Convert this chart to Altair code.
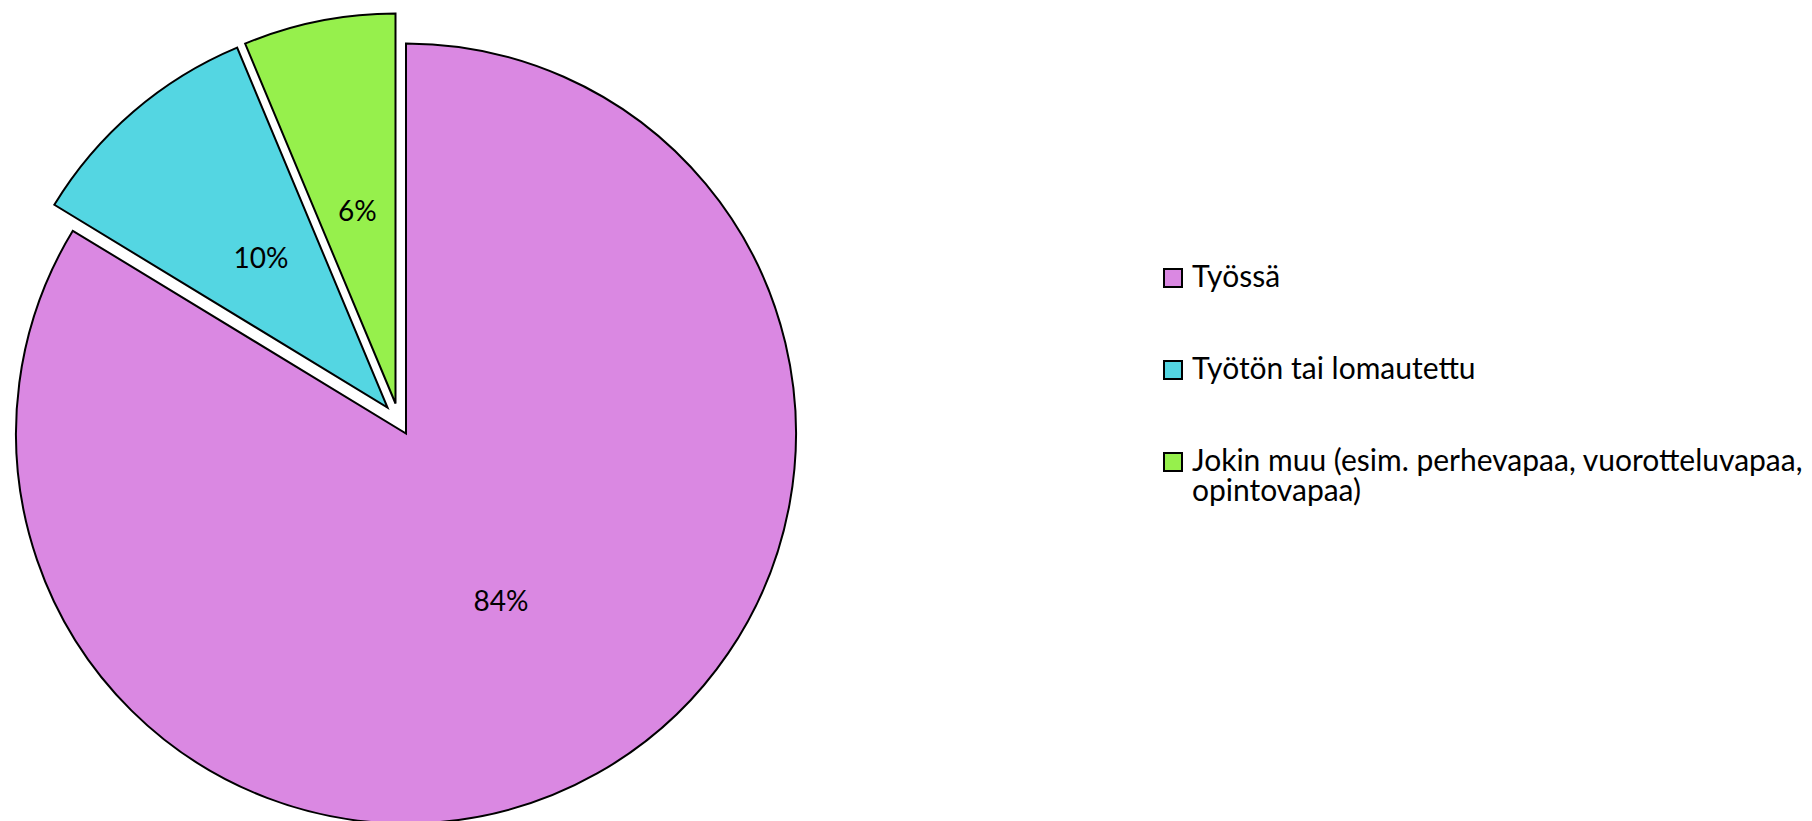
import altair as alt
import pandas as pd
import math

# ---- data ----
categories = [
    "Työssä",
    "Työtön tai lomautettu",
    "Jokin muu (esim. perhevapaa, vuorotteluvapaa, opintovapaa)",
]
shares = [83.7, 10.0, 6.3]
labels = ["84%", "10%", "6%"]

# ---- styles ----
colors = ["#DA88E2", "#54D6E2", "#96F04C"]
# explode offsets (px) per slice
explode_dx = [0, -18.5, -10.5]
explode_dy = [0, -26, -30]
CX, CY = 398, 425.5          # pie centre inside the view
R = 390
LABEL_R = 194
FONT = "Lato"
FS_LABEL = 28
FS_LEGEND = 30

df = pd.DataFrame({
    "cat": categories,
    "share": shares,
    "label": labels,
    "order": list(range(len(categories))),
})

base = (
    alt.Chart(df)
    .transform_window(end="sum(share)", sort=[alt.SortField("order")], frame=[None, 0])
    .transform_calculate(start="datum.end - datum.share", mid="datum.end - datum.share / 2")
)

theta_scale = alt.Scale(domain=[0, 100], range=[0, 2 * math.pi])

legend = alt.Legend(
    title=None,
    orient="none",
    legendX=1150,
    legendY=255,
    direction="vertical",
    symbolType="square",
    symbolSize=324,
    symbolStrokeColor="black",
    symbolStrokeWidth=2,
    symbolOpacity=1,
    labelFont=FONT,
    labelFontSize=FS_LEGEND,
    labelColor="black",
    labelLimit=0,
    labelOffset=4,
    rowPadding=62,
    labelExpr="split(replace(datum.label, ', opintovapaa', ',|opintovapaa'), '|')",
)

layers = []
for i, cat in enumerate(categories):
    sel = base.transform_filter(alt.datum.cat == cat)
    arc = sel.mark_arc(
        outerRadius=R, stroke="black", strokeWidth=2,
        xOffset=explode_dx[i], yOffset=explode_dy[i],
    ).encode(
        x=alt.value(CX),
        y=alt.value(CY),
        theta=alt.Theta("start:Q", scale=theta_scale, stack=False),
        theta2="end:Q",
        color=alt.Color(
            "cat:N",
            scale=alt.Scale(domain=categories, range=colors),
            legend=legend if i == 0 else None,
        ),
    )
    txt = sel.mark_text(
        radius=LABEL_R, font=FONT, fontSize=FS_LABEL, color="black",
        align="center", baseline="middle",
        xOffset=explode_dx[i], yOffset=explode_dy[i],
    ).encode(
        x=alt.value(CX),
        y=alt.value(CY),
        theta=alt.Theta("mid:Q", scale=theta_scale, stack=False),
        text="label:N",
    )
    layers += [arc, txt]

chart = (
    alt.layer(*layers)
    .properties(width=1796, height=813, autosize=alt.AutoSizeParams(type="none"), padding=0)
    .configure(style={"guide-label": {"lineHeight": 30}})
    .configure_view(strokeWidth=0)
)

chart.save("out.html", embed_options={"renderer": "svg", "actions": False})
